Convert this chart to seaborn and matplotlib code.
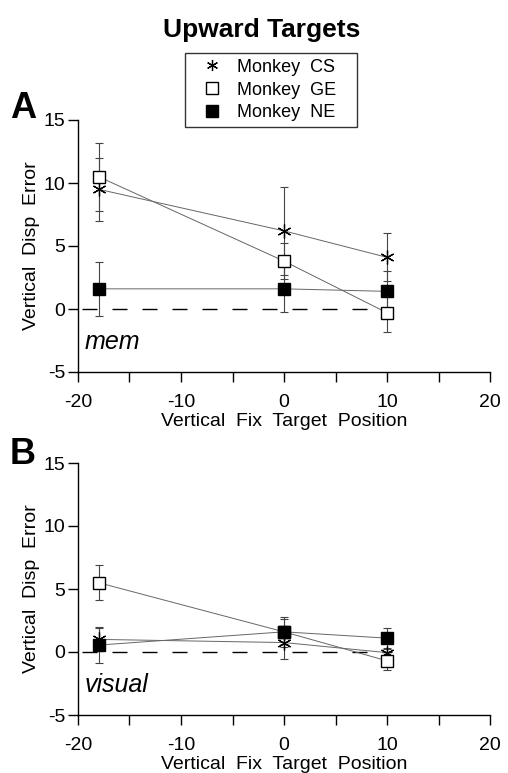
import matplotlib
matplotlib.use("Agg")
import matplotlib.pyplot as plt
from matplotlib.lines import Line2D
import seaborn as sns
import pandas as pd
import numpy as np

# ---- data ----
positions = [-18, 0, 10]
monkeys = ["Monkey  CS", "Monkey  GE", "Monkey  NE"]

mem_cs = [9.5, 6.2, 4.1]
mem_cs_err = [2.5, 3.5, 1.9]
mem_ge = [10.5, 3.8, -0.3]
mem_ge_err = [2.7, 1.4, 1.5]
mem_ne = [1.6, 1.6, 1.4]
mem_ne_err = [2.15, 1.85, 1.6]

vis_cs = [1.0, 0.75, -0.05]
vis_cs_err = [0.9, 1.3, 0.3]
vis_ge = [5.5, 1.6, -0.7]
vis_ge_err = [1.4, 1.2, 0.7]
vis_ne = [0.55, 1.6, 1.1]
vis_ne_err = [1.4, 1.0, 0.8]

x_ticks = [-20, -10, 0, 10, 20]
y_ticks = [-5, 0, 5, 10, 15]

sns.set_theme(style="ticks")
plt.rcParams["font.family"] = ["Liberation Sans", "DejaVu Sans"]

W, H = 508, 773
fig = plt.figure(figsize=(W / 100, H / 100), dpi=100)

styles = {
    "Monkey  CS": dict(marker=(6, 2, 0), mfc="black", mec="black", ms=10, mew=0.9),
    "Monkey  GE": dict(marker="s", mfc="white", mec="black", ms=9, mew=1.0),
    "Monkey  NE": dict(marker="s", mfc="black", mec="black", ms=9, mew=1.0),
}

def make_df(cs, cse, ge, gee, ne, nee):
    rows = []
    for name, ys, es in zip(monkeys, [cs, ge, ne], [cse, gee, nee]):
        for x, y, e in zip(positions, ys, es):
            rows.append(dict(pos=x, err=y, sd=e, monkey=name))
    return pd.DataFrame(rows)

panels = [
    ("A", "mem", make_df(mem_cs, mem_cs_err, mem_ge, mem_ge_err, mem_ne, mem_ne_err), 120, 11),
    ("B", "visual", make_df(vis_cs, vis_cs_err, vis_ge, vis_ge_err, vis_ne, vis_ne_err), 463, 9),
]

for letter, tag, df, top, loff in panels:
    ax = fig.add_axes([78 / W, 1 - (top + 252) / H, 412 / W, 252 / H])
    ax.plot([-19.6, 10.5], [0, 0], color="black", lw=1.0, dashes=(10.8, 10.8), zorder=1)
    for name in monkeys:
        d = df[df.monkey == name]
        sns.lineplot(data=d, x="pos", y="err", ax=ax, color="#666666", lw=0.7,
                     estimator=None, sort=False, legend=False, zorder=2)
        ax.errorbar(d["pos"], d["err"], yerr=d["sd"], fmt="none", ecolor="#444444",
                    elinewidth=0.8, capsize=3, capthick=0.8, zorder=3, clip_on=False)
        st = styles[name]
        ax.plot(d["pos"], d["err"], ls="none", zorder=4, clip_on=False, **st)
    ax.set_xlim(-20, 20)
    ax.set_ylim(-5, 15)
    ax.set_xticks(np.arange(-20, 21, 5))
    ax.set_xticklabels([str(v) if v in x_ticks else "" for v in np.arange(-20, 21, 5)])
    ax.set_yticks(y_ticks)
    ax.set_yticklabels([str(v) for v in y_ticks])
    ax.tick_params(axis="both", direction="out", length=7, width=1.0, labelsize=14,
                   color="black", labelcolor="black")
    ax.tick_params(axis="x", pad=9)
    ax.tick_params(axis="y", pad=2)
    for s in ["top", "right"]:
        ax.spines[s].set_visible(False)
    for s in ["left", "bottom"]:
        ax.spines[s].set_color("black")
        ax.spines[s].set_linewidth(1.0)
    ax.set_xlabel("Vertical  Fix  Target  Position", fontsize=14, color="black", labelpad=1.5)
    ax.set_ylabel("Vertical  Disp  Error", fontsize=14, color="black", labelpad=3)
    ax.text(0.015, 0.12, tag, transform=ax.transAxes, fontsize=18, style="italic",
            va="center", ha="left", color="black")
    fig.text(10 / W, 1 - (top - loff) / H, letter, fontsize=26, fontweight="bold",
             ha="left", va="center", color="black")

fig.text(262 / W, 1 - 30 / H, "Upward Targets", fontsize=19, fontweight="bold",
         ha="center", va="center", color="black")

handles = [Line2D([], [], ls="none", **{**styles[n], "ms": 8}) for n in monkeys]
labels = [m + "   " for m in monkeys]
leg = fig.legend(handles, labels, loc="upper left",
                 bbox_to_anchor=(185 / W, 1 - 53 / H), frameon=True, fancybox=False,
                 edgecolor="black", fontsize=13, handlelength=2.4, handletextpad=0.15,
                 borderpad=0.32, labelspacing=0.32, borderaxespad=0)
leg.get_frame().set_linewidth(1.0)
for t in leg.get_texts():
    t.set_color("black")

fig.savefig("out.png", dpi=100, facecolor="white")
